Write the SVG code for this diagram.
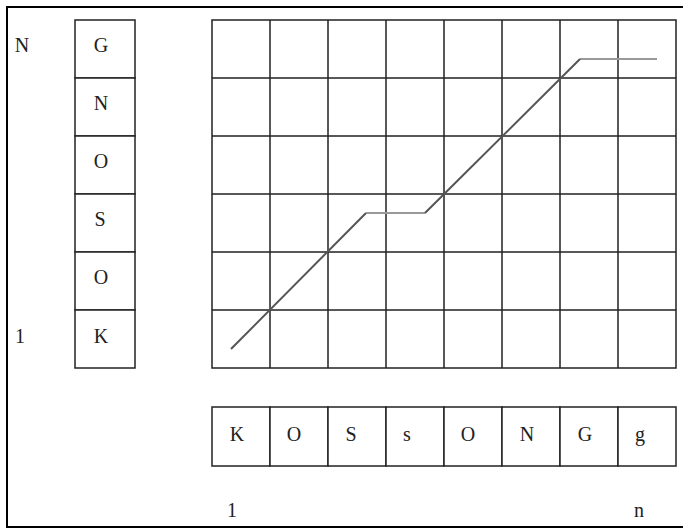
<svg xmlns="http://www.w3.org/2000/svg" width="683" height="529" viewBox="0 0 683 529">
<style>
.cell{fill:#fff;stroke:#222;stroke-width:1.5}
.gl{stroke:#222;stroke-width:1.5;fill:none}
.t{font-family:"Liberation Serif","Times New Roman",serif;font-size:20px;fill:#222;text-anchor:middle}
.diag{stroke:#555;stroke-width:2;fill:none;stroke-linejoin:round}
.flat{stroke:#999;stroke-width:2;fill:none}
</style>
<rect x="0" y="0" width="683" height="529" fill="#fff"/>
<rect x="7" y="7" width="700" height="520" fill="none" stroke="#000" stroke-width="2"/>
<text class="t" x="22" y="52">N</text>
<text class="t" x="20" y="343">1</text>
<g id="seqA">
<rect class="cell" x="75" y="20" width="60" height="58"/><text class="t" x="101" y="52">G</text>
<rect class="cell" x="75" y="78" width="60" height="58"/><text class="t" x="101" y="110">N</text>
<rect class="cell" x="75" y="136" width="60" height="58"/><text class="t" x="101" y="168">O</text>
<rect class="cell" x="75" y="194" width="60" height="58"/><text class="t" x="100" y="226">S</text>
<rect class="cell" x="75" y="252" width="60" height="58"/><text class="t" x="101" y="284">O</text>
<rect class="cell" x="75" y="310" width="60" height="58"/><text class="t" x="101" y="343">K</text>
</g>
<g id="grid">
<rect class="gl" x="212" y="20" width="464" height="348"/>
<path class="gl" d="M270 20V368M328 20V368M386 20V368M444 20V368M502 20V368M560 20V368M618 20V368M212 78H676M212 136H676M212 194H676M212 252H676M212 310H676"/>
</g>
<g id="connectors">
<path class="flat" d="M366 213H425M580 59H657"/>
<path class="diag" d="M231 349L366 213M425 213L580 59"/>
</g>
<g id="seqB">
<rect class="cell" x="212" y="407" width="58" height="59"/><text class="t" x="237" y="441">K</text>
<rect class="cell" x="270" y="407" width="58" height="59"/><text class="t" x="294" y="441">O</text>
<rect class="cell" x="328" y="407" width="58" height="59"/><text class="t" x="351" y="441">S</text>
<rect class="cell" x="386" y="407" width="58" height="59"/><text class="t" x="407" y="441">s</text>
<rect class="cell" x="444" y="407" width="58" height="59"/><text class="t" x="468" y="441">O</text>
<rect class="cell" x="502" y="407" width="58" height="59"/><text class="t" x="527" y="441">N</text>
<rect class="cell" x="560" y="407" width="58" height="59"/><text class="t" x="585" y="441">G</text>
<rect class="cell" x="618" y="407" width="58" height="59"/><text class="t" x="640" y="441">g</text>
</g>
<text class="t" x="232" y="517">1</text>
<text class="t" x="639" y="517">n</text>
</svg>
